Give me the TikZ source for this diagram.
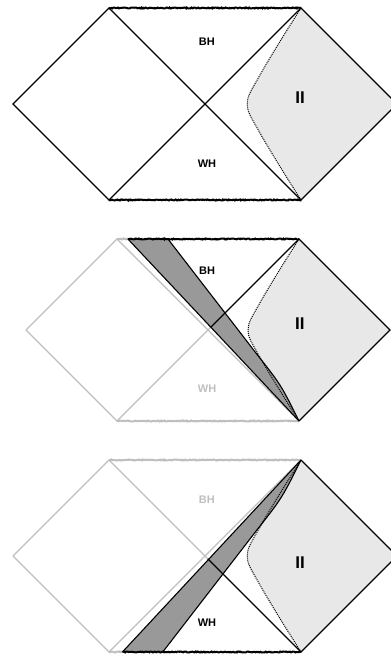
\documentclass[tikz,border=0pt]{standalone}
\usepackage{fontspec}
\setmainfont{Liberation Sans}
\usepackage{tikz}
\usetikzlibrary{
    calc,
    decorations.pathmorphing
}
\definecolor{regiongray}{gray}{0.91}
\definecolor{shellgray}{gray}{0.6}
\definecolor{fadegray}{gray}{0.75}

\begin{document}
\begin{tikzpicture}[x=1pt,y=1pt,
    line join=miter,
    edge/.style={line width=1.1pt},
    faded/.style={line width=1.1pt, fadegray},
    sing/.style={line width=2pt, decorate,
        decoration={random steps, segment length=1pt, amplitude=0.5pt}},
    hyper/.style={line width=1pt, densely dotted},
    lbl/.style={font=\fontsize{11}{12}\selectfont\bfseries},
    bigl/.style={font=\fontsize{17}{19}\selectfont\bfseries}
]
\useasboundingbox (0,0) rectangle (391,654);

% Top diagram
\begin{scope}[shift={(205,550)}, scale=96]
% Region II
\fill[regiongray] (1,1) .. controls (0.86,0.78) and (0.66,0.46) .. (0.56,0.28)
    .. controls (0.47,0.12) and (0.44,0.08) .. (0.44,0)
    .. controls (0.44,-0.08) and (0.47,-0.12) .. (0.56,-0.28)
    .. controls (0.66,-0.46) and (0.86,-0.78) .. (1,-1) -- (2,0) -- cycle;
% Diamonds
\draw[edge] (-2,0) -- (-1,1) -- (1,-1) -- (2,0) -- (1,1) -- (-1,-1) -- cycle;
% Singularities
\draw[sing] (-1,1) -- (1,1);
\draw[sing] (-1,-1) -- (1,-1);
% Hyperbola
\draw[hyper] (1,1) .. controls (0.86,0.78) and (0.66,0.46) .. (0.56,0.28)
    .. controls (0.47,0.12) and (0.44,0.08) .. (0.44,0)
    .. controls (0.44,-0.08) and (0.47,-0.12) .. (0.56,-0.28)
    .. controls (0.66,-0.46) and (0.86,-0.78) .. (1,-1);
\node[lbl] (BHone) at (0.02,0.65) {BH};
\node[lbl] (WHone) at (0.02,-0.625) {WH};
\node[bigl] (IIone) at (0.99,0.07) {II};
\end{scope}

% Middle diagram
\begin{scope}[shift={(208,324)}, scale=91]
\fill[regiongray] (1,1) .. controls (0.86,0.78) and (0.66,0.46) .. (0.56,0.28)
    .. controls (0.47,0.12) and (0.44,0.08) .. (0.44,0)
    .. controls (0.44,-0.08) and (0.47,-0.12) .. (0.56,-0.28)
    .. controls (0.66,-0.46) and (0.86,-0.78) .. (1,-1) -- (2,0) -- cycle;
% Faded part
\draw[faded] (-2,0) -- (-1,1) -- (1,-1);
\draw[faded] (-2,0) -- (-1,-1) -- (0.03,0.03);
\draw[sing, fadegray] (-1,1) -- (-0.88,1);
\draw[sing, fadegray] (-1,-1) -- (1,-1);
% Shell
\fill[shellgray] (-0.88,1) -- (-0.44,1) -- (0.54,-0.27) .. controls (0.8,-0.6) .. (1,-1) -- cycle;
\draw[hyper] (1,1) .. controls (0.86,0.78) and (0.66,0.46) .. (0.56,0.28)
    .. controls (0.47,0.12) and (0.44,0.08) .. (0.44,0)
    .. controls (0.44,-0.08) and (0.47,-0.12) .. (0.56,-0.28)
    .. controls (0.66,-0.46) and (0.86,-0.78) .. (1,-1);
\draw[edge] (-0.88,1) -- (1,-1);
\draw[edge] (-0.44,1) -- (0.54,-0.27) .. controls (0.8,-0.6) .. (1,-1);
\draw[edge] (0.03,0.03) -- (1,1) -- (2,0) -- (1,-1);
\draw[sing] (-0.88,1) -- (1,1);
\node[lbl] (BHtwo) at (-0.01,0.65) {BH};
\node[lbl, fadegray] (WHtwo) at (-0.01,-0.64) {WH};
\node[bigl] (IItwo) at (1.01,0.07) {II};
\end{scope}

% Bottom diagram
\begin{scope}[shift={(205,98)}, scale=96]
\begin{scope}[yscale=-1]
\fill[regiongray] (1,1) .. controls (0.86,0.78) and (0.66,0.46) .. (0.56,0.28)
    .. controls (0.47,0.12) and (0.44,0.08) .. (0.44,0)
    .. controls (0.44,-0.08) and (0.47,-0.12) .. (0.56,-0.28)
    .. controls (0.66,-0.46) and (0.86,-0.78) .. (1,-1) -- (2,0) -- cycle;
\draw[faded] (-2,0) -- (-1,1) -- (1,-1);
\draw[faded] (-2,0) -- (-1,-1) -- (0.03,0.03);
\draw[sing, fadegray] (-1,1) -- (-0.86,1);
\draw[sing, fadegray] (-1,-1) -- (1,-1);
\fill[shellgray] (-0.86,1) -- (-0.44,1) -- (0.54,-0.27) .. controls (0.8,-0.6) .. (1,-1) -- cycle;
\draw[hyper] (1,1) .. controls (0.86,0.78) and (0.66,0.46) .. (0.56,0.28)
    .. controls (0.47,0.12) and (0.44,0.08) .. (0.44,0)
    .. controls (0.44,-0.08) and (0.47,-0.12) .. (0.56,-0.28)
    .. controls (0.66,-0.46) and (0.86,-0.78) .. (1,-1);
\draw[edge] (-0.86,1) -- (1,-1);
\draw[edge] (-0.44,1) -- (0.54,-0.27) .. controls (0.8,-0.6) .. (1,-1);
\draw[edge] (0.03,0.03) -- (1,1) -- (2,0) -- (1,-1);
\draw[sing] (-0.86,1) -- (1,1);
\end{scope}
\node[lbl, fadegray] (BHthree) at (0.02,0.59) {BH};
\node[lbl] (WHthree) at (0.02,-0.69) {WH};
\node[bigl] (IIthree) at (0.99,-0.07) {II};
\end{scope}
\end{tikzpicture}
\end{document}
